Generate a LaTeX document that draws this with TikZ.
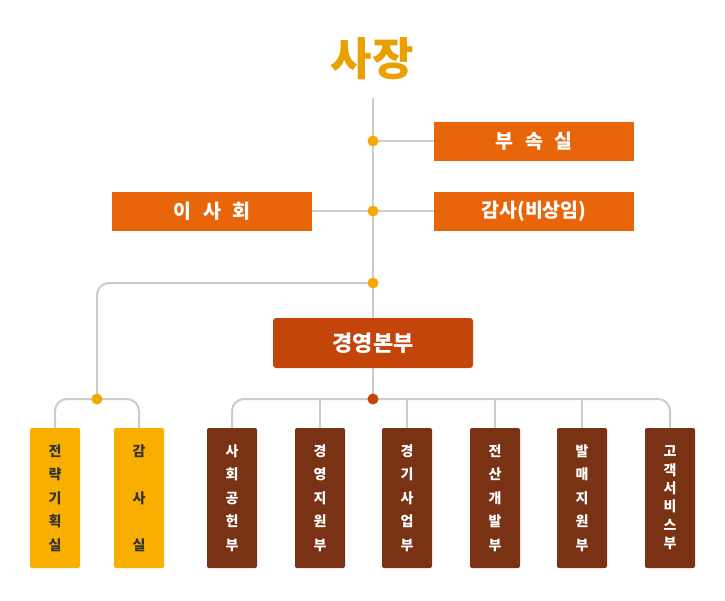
\documentclass[tikz,border=0pt]{standalone}
\usepackage{fontspec}
\setmainfont{Noto Sans CJK KR}
\definecolor{lineg}{HTML}{CCCCCC}
\definecolor{dotor}{HTML}{F5A800}
\definecolor{dotdk}{HTML}{C4450A}
\definecolor{boxor}{HTML}{E8650A}
\definecolor{boxmb}{HTML}{C4450A}
\definecolor{boxye}{HTML}{F9AF00}
\definecolor{boxbr}{HTML}{7A3214}
\definecolor{titlec}{HTML}{EAA000}
\definecolor{txtdk}{HTML}{333333}
\begin{document}
\begin{tikzpicture}[x=1pt,y=-1pt,
  conn/.style={draw=lineg,line width=2pt},
  hbox/.style={fill=boxor,text=white,minimum width=200pt,minimum height=39pt,inner sep=0pt,font=\fontsize{19.5}{22}\selectfont\bfseries},
  mbox/.style={fill=boxmb,text=white,minimum width=200pt,minimum height=50pt,inner sep=0pt,rounded corners=3pt,font=\fontsize{22}{24}\selectfont\bfseries},
  vbox/.style={minimum width=50pt,minimum height=140pt,inner sep=0pt,rounded corners=2pt,align=center,font=\fontsize{14}{23.5}\selectfont\bfseries},
  ybox/.style={vbox,fill=boxye,text=txtdk},
  bbox/.style={vbox,fill=boxbr,text=white},
  dotst/.style={circle,fill=dotor,minimum size=11pt,inner sep=0pt},
]
\useasboundingbox (0,0) rectangle (725,600);
% title
\node[text=titlec,font=\fontsize{45}{48}\selectfont\bfseries] (title) at (372,59) {사장};
\coordinate (top) at (373,98);
% dot positions
\coordinate (d1) at (373,141);
\coordinate (d2) at (373,211);
\coordinate (d3) at (373,283);
\coordinate (d4) at (373,399);
\coordinate (d5) at (97,399);
% boxes
\node[hbox] (bs) at (534,141) {부\hspace{0.6em}속\hspace{0.6em}실};
\node[hbox] (ish) at (212,211) {이\hspace{0.6em}사\hspace{0.6em}회};
\node[hbox] (gs) at (534,211) {감사(비상임)};
\node[mbox] (mb) at (373,343) {경영본부};
% bottom boxes
\node[ybox] (y1) at (55,498) {전\\략\\기\\획\\실};
\node[ybox] (y2) at (139,498) {감\\[23.5pt]사\\[23.5pt]실};
\node[bbox] (r1) at (232,498) {사\\회\\공\\헌\\부};
\node[bbox] (r2) at (320,498) {경\\영\\지\\원\\부};
\node[bbox] (r3) at (407,498) {경\\기\\사\\업\\부};
\node[bbox] (r4) at (495,498) {전\\산\\개\\발\\부};
\node[bbox] (r5) at (582,498) {발\\매\\지\\원\\부};
\node[bbox,font=\fontsize{14}{18.3}\selectfont\bfseries] (r6) at (670,498) {고\\객\\서\\비\\스\\부};
% connectors
\draw[conn] (top) -- (mb.north);
\draw[conn] (mb.south) -- (d4);
\draw[conn] (d1) -- (bs.west);
\draw[conn] (d2) -- (ish.east);
\draw[conn] (d2) -- (gs.west);
\draw[conn,rounded corners=12pt] (d3) -| (d5);
\draw[conn,rounded corners=12pt] (d5) -| (y1.north);
\draw[conn,rounded corners=12pt] (d5) -| (y2.north);
\draw[conn,rounded corners=12pt] (d4) -| (r1.north);
\draw[conn,rounded corners=12pt] (d4) -| (r6.north);
\draw[conn] (r2.north) -- (r2.north |- d4);
\draw[conn] (r3.north) -- (r3.north |- d4);
\draw[conn] (r4.north) -- (r4.north |- d4);
\draw[conn] (r5.north) -- (r5.north |- d4);
% dots
\node[dotst] (n1) at (d1) {};
\node[dotst] (n2) at (d2) {};
\node[dotst] (n3) at (d3) {};
\node[dotst] (n5) at (d5) {};
\node[dotst,fill=dotdk] (n4) at (d4) {};
\end{tikzpicture}
\end{document}
